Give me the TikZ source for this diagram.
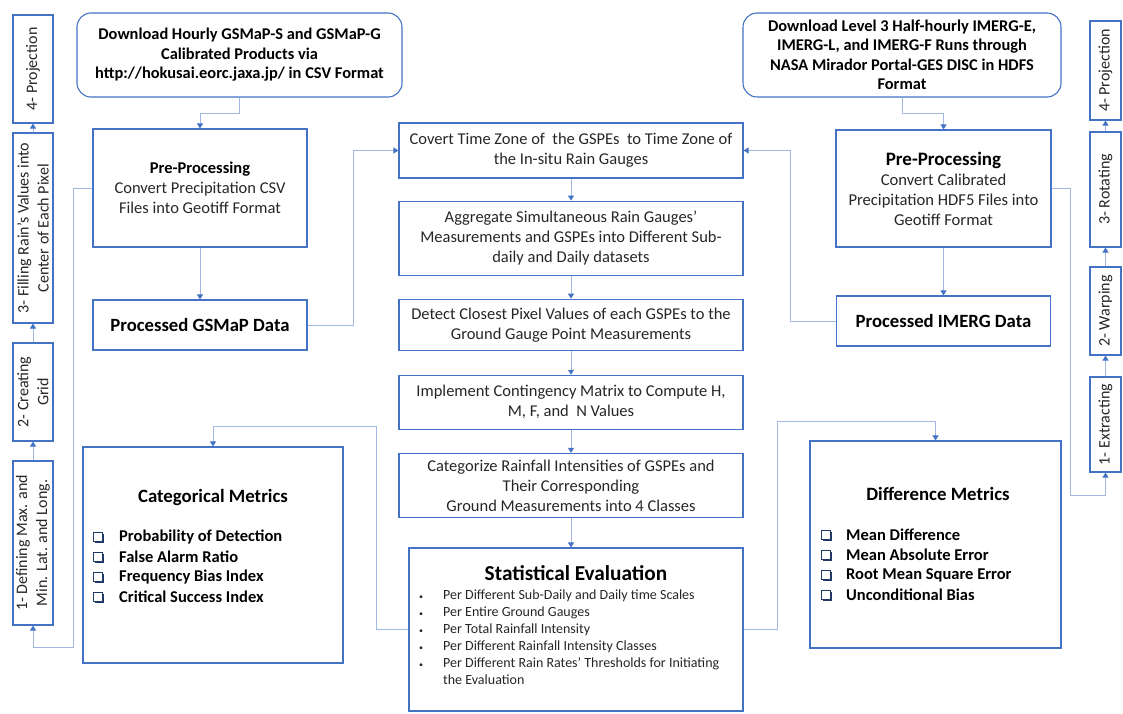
\documentclass[tikz,border=0pt]{standalone}
\usepackage{fontspec}
\setmainfont{Carlito}
\usetikzlibrary{positioning, arrows.meta, shadows}
\definecolor{boxblue}{RGB}{68,114,196}
\definecolor{linkblue}{RGB}{160,184,226}
\definecolor{tickblue}{RGB}{31,56,100}
\definecolor{txt}{RGB}{38,38,38}
\newcommand{\fsz}[2]{\fontsize{#1}{#2}\selectfont}
\tikzset{
  box/.style={draw=boxblue, line width=1.1pt, align=center, text=txt,
    inner sep=2pt, font=\fsz{16.5}{20}},
  dlbox/.style={box, rounded corners=14pt, font=\fsz{16.4}{19.5}\bfseries, text=black},
  sidebox/.style={box, rotate=90, font=\fsz{16}{20}},
  databox/.style={box, minimum width=214pt, minimum height=50pt,
    font=\fsz{18.7}{22}\bfseries, text=black},
  stepbox/.style={box, minimum width=344pt},
  link/.style={draw=linkblue, line width=0.9pt,
    -{Triangle[width=6pt,length=5pt,color=boxblue]}},
  tick/.style={draw=tickblue, line width=1.1pt, fill=white, minimum size=8.5pt,
    inner sep=0pt, drop shadow={shadow xshift=1.3pt, shadow yshift=-1.3pt,
    fill=tickblue, opacity=1}},
  metric/.style={anchor=west, inner sep=0pt, font=\fsz{16.5}{20}\bfseries},
  heading/.style={font=\fsz{18.8}{22}\bfseries},
}
\begin{document}
\begin{tikzpicture}[x=1pt, y=-1pt]
  \useasboundingbox (0,0) rectangle (1123,713);

  % GSMaP branch
  \node[dlbox, minimum width=325pt, minimum height=84pt] (dlG) at (239.5,55)
    {Download Hourly GSMaP-S and GSMaP-G\\Calibrated Products via\\http://hokusai.eorc.jaxa.jp/ in CSV Format};
  \node[box, minimum width=214pt, minimum height=118pt] (ppG) at (200,188)
    {{\bfseries\color{black}Pre-Processing}\\Convert Precipitation CSV\\Files into Geotiff Format};
  \node[databox] (pdG) at (200,325) {Processed GSMaP Data};

  \node[sidebox, minimum height=40pt, minimum width=108pt] (sG4) at (33,69) {4- Projection};
  \node[sidebox, minimum height=40pt, minimum width=190pt] (sG3) at (33,228) {3- Filling Rain’s Values into\\Center of Each Pixel};
  \node[sidebox, minimum height=40pt, minimum width=98pt] (sG2) at (33,392) {2- Creating\\Grid};
  \node[sidebox, minimum height=40pt, minimum width=164pt] (sG1) at (33,543) {1- Defining Max. and\\Min. Lat. and Long.};

  % IMERG branch
  \node[dlbox, minimum width=318pt, minimum height=84pt] (dlI) at (902,55)
    {Download Level 3 Half-hourly IMERG-E,\\IMERG-L, and IMERG-F Runs through\\NASA Mirador Portal-GES DISC in HDFS\\Format};
  \node[box, minimum width=215pt, minimum height=117pt, font=\fsz{16.6}{20}] (ppI) at (943.5,188.5)
    {{\fsz{19}{21}\bfseries\color{black}Pre-Processing}\\Convert Calibrated\\Precipitation HDF5 Files into\\Geotiff Format};
  \node[databox] (pdI) at (943.5,321) {Processed IMERG Data};

  \node[sidebox, minimum height=31pt, minimum width=99pt] (sI4) at (1105.5,70.5) {4- Projection};
  \node[sidebox, minimum height=31pt, minimum width=115pt] (sI3) at (1105.5,189.5) {3- Rotating};
  \node[sidebox, minimum height=31pt, minimum width=88pt] (sI2) at (1105.5,311) {2- Warping};
  \node[sidebox, minimum height=31pt, minimum width=95pt] (sI1) at (1105.5,424.5) {1- Extracting};

  % main steps
  \node[stepbox, minimum height=55pt] (tz) at (571,150.5)
    {Covert Time Zone of\ \ the GSPEs\ \ to Time Zone of\\the In-situ Rain Gauges};
  \node[stepbox, minimum height=74pt, below=22pt of tz] (agg)
    {Aggregate Simultaneous Rain Gauges’\\Measurements\ and GSPEs into Different Sub-\\daily and Daily datasets};
  \node[stepbox, minimum height=51pt, below=23pt of agg] (px)
    {Detect Closest Pixel Values of each GSPEs to the\\Ground Gauge Point Measurements};
  \node[stepbox, minimum height=54pt, below=24pt of px] (ct)
    {Implement Contingency Matrix to Compute H,\\M, F, and\ \ N Values};
  \node[stepbox, minimum height=64pt, below=23pt of ct] (cls)
    {Categorize Rainfall Intensities of GSPEs and\\Their Corresponding\\Ground Measurements into 4 Classes};

  \node[box, minimum width=334pt, minimum height=163pt] (stat) at (576,629.5) {};
  \node[font=\fsz{21.3}{24}\bfseries] (statT) at (576,573) {Statistical Evaluation};
  \node[anchor=north west, inner sep=0pt, text=txt, font=\fsz{14}{17}] (statL) at (419,587)
    {\begin{tabular}{@{}l@{\hspace{20pt}}l@{}}
      {\fsz{8}{17}\textbullet} & Per Different Sub-Daily and Daily time Scales\\
      {\fsz{8}{17}\textbullet} & Per Entire Ground Gauges\\
      {\fsz{8}{17}\textbullet} & Per Total Rainfall Intensity\\
      {\fsz{8}{17}\textbullet} & Per Different Rainfall Intensity Classes\\
      {\fsz{8}{17}\textbullet} & Per Different Rain Rates’ Thresholds for Initiating\\
       & the Evaluation
    \end{tabular}};

  % metrics
  \node[box, minimum width=260pt, minimum height=216pt] (cat) at (213,555) {};
  \node[heading] (catT) at (213,497) {Categorical Metrics};
  \foreach \m [count=\i] in {Probability of Detection, False Alarm Ratio,
      Frequency Bias Index, Critical Success Index} {
    \node[tick] (catB\i) at (98,517+20*\i) {};
    \node[metric] (catM\i) at (119,517+20*\i) {\m};
  }

  \node[box, minimum width=251pt, minimum height=207pt] (dif) at (935.5,544.5) {};
  \node[heading] (difT) at (938,494) {Difference Metrics};
  \foreach \m [count=\i] in {Mean Difference, Mean Absolute Error,
      Root Mean Square Error, Unconditional Bias} {
    \node[tick] (difB\i) at (826,515+20*\i) {};
    \node[metric] (difM\i) at (846,515+20*\i) {\m};
  }

  % connectors
  \coordinate (gL) at (73,647);
  \coordinate (iR) at (1070,495);
  \coordinate (sL) at (376,426);
  \coordinate (sR) at (777,421);

  \draw[link] (dlG.south) -- ++(0,16) -| (ppG.north);
  \draw[link] (ppG) -- (pdG);
  \draw[link] (ppG.west) -| (gL) -| (sG1.west);
  \foreach \a/\b in {sG1/sG2, sG2/sG3, sG3/sG4}
    \draw[link] (\a.east) -- (\b.west);
  \draw[link] (pdG.east) -- ++(46,0) |- (tz.west);

  \draw[link] (dlI.south) -- ++(0,16) -| (ppI.north);
  \draw[link] (ppI) -- (pdI);
  \draw[link] (pdI.west) -- ++(-46,0) |- (tz.east);
  \draw[link] (ppI.east) -| (iR) -| (sI1.west);
  \foreach \a/\b in {sI1/sI2, sI2/sI3, sI3/sI4}
    \draw[link] (\a.east) -- (\b.west);

  \foreach \a/\b in {tz/agg, agg/px, px/ct, ct/cls}
    \draw[link] (\a) -- (\b);
  \draw[link] (cls.south) -- (cls.south |- stat.north);
  \draw[link] (stat.west) -| (sL) -| (cat.north);
  \draw[link] (stat.east) -| (sR) -| (dif.north);
\end{tikzpicture}
\end{document}
